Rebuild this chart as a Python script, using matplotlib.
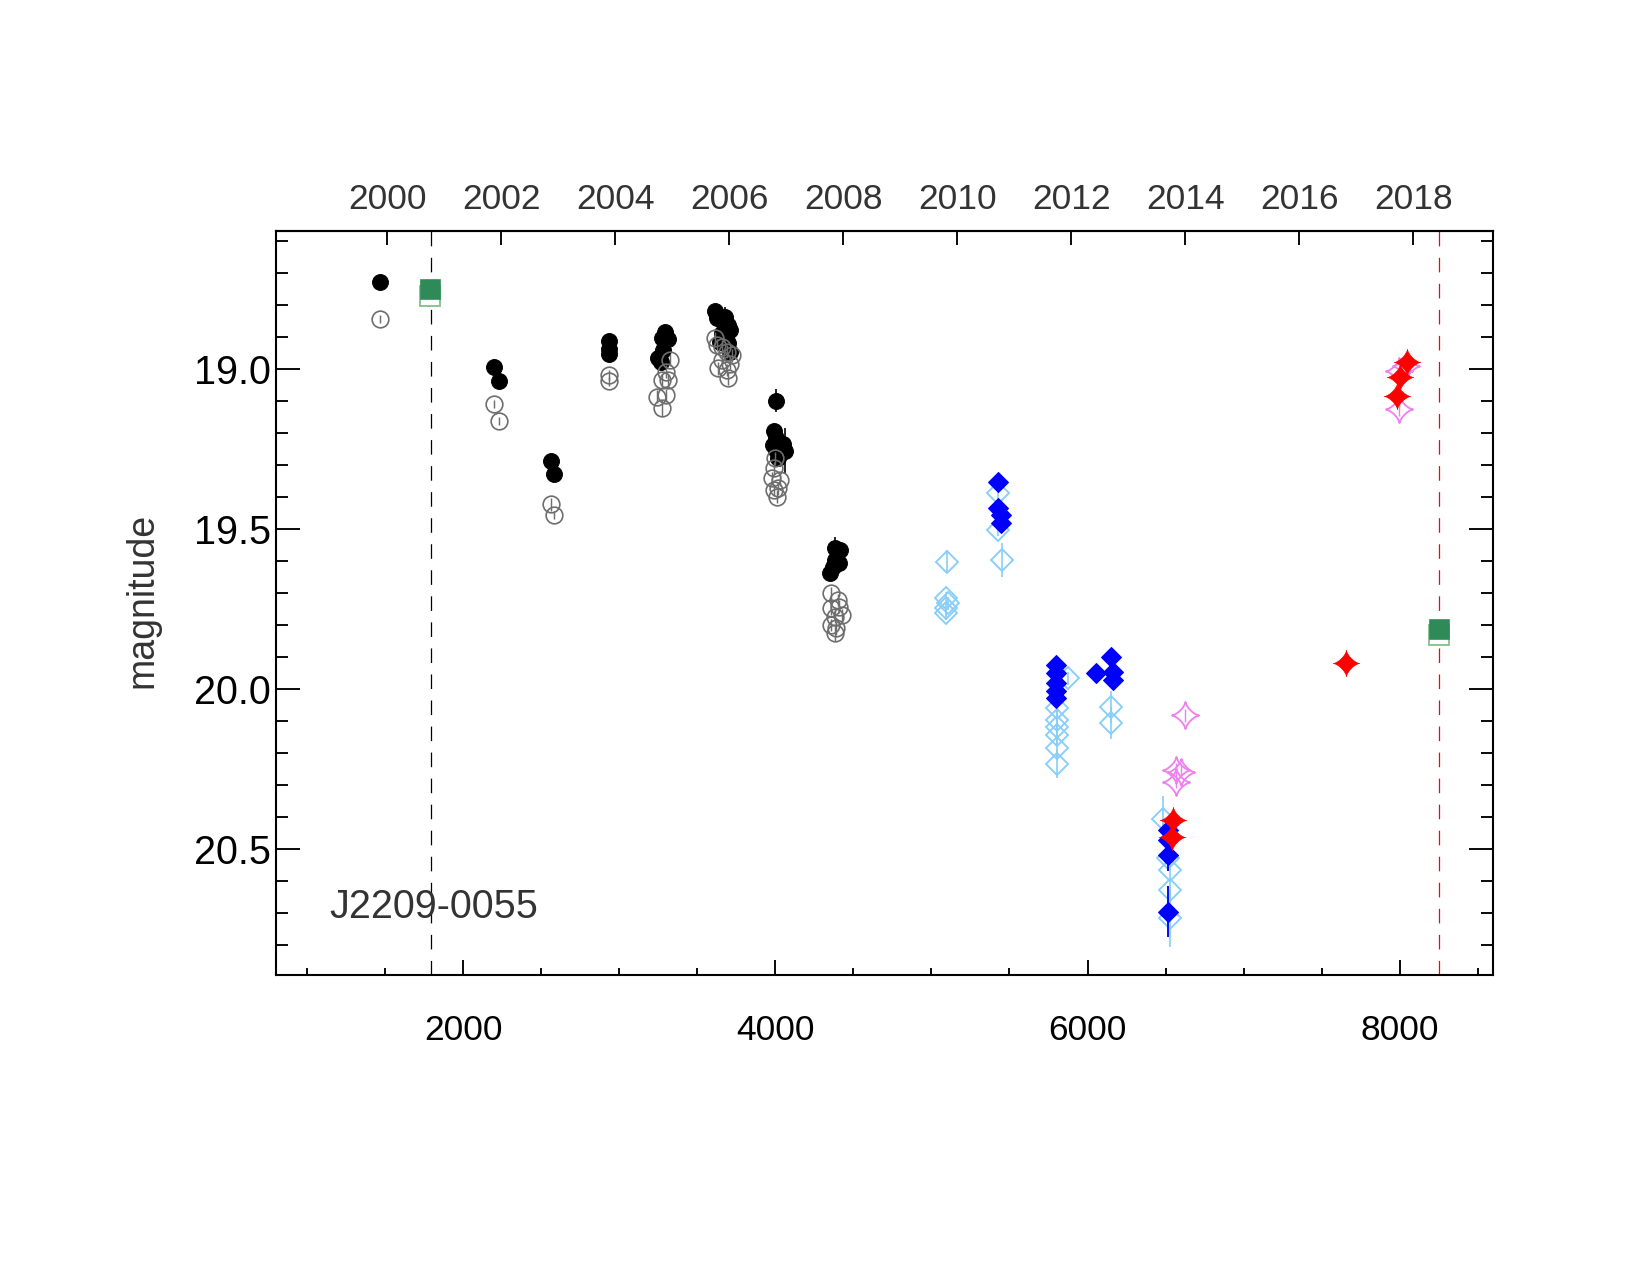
import numpy as np
import matplotlib
matplotlib.use("Agg")
import matplotlib.pyplot as plt
from matplotlib.path import Path
from matplotlib.ticker import MultipleLocator, FormatStrFormatter

plt.rcParams['font.family'] = ['Liberation Sans', 'DejaVu Sans']
plt.rcParams['lines.scale_dashes'] = False

# black filled circles
blk_x = [1465, 2197, 2230, 2559, 2579, 2933, 2933, 2933,
         3292, 3271, 3313, 3280, 3249, 3270,
         3612, 3623, 3676, 3697, 3708, 3655, 3644, 3697, 3708,
         4002, 3990, 4007, 3985, 4050, 4007, 4060, 4017,
         4380, 4412, 4380, 4408, 4370, 4348]
blk_y = [18.727, 18.992, 19.037, 19.286, 19.327, 18.911, 18.937, 18.952,
         18.883, 18.903, 18.906, 18.940, 18.966, 18.976,
         18.817, 18.841, 18.836, 18.862, 18.877, 18.888, 18.914, 18.919, 18.945,
         19.098, 19.192, 19.216, 19.237, 19.232, 19.252, 19.255, 19.278,
         19.560, 19.565, 19.596, 19.606, 19.617, 19.636]
blk_e = [0.01, 0.01, 0.01, 0.01, 0.01, 0.01, 0.01, 0.01,
         0.015, 0.015, 0.015, 0.015, 0.015, 0.015,
         0.015, 0.015, 0.03, 0.015, 0.015, 0.015, 0.015, 0.015, 0.015,
         0.036, 0.015, 0.015, 0.015, 0.015, 0.015, 0.07, 0.015,
         0.036, 0.015, 0.015, 0.015, 0.015, 0.015]

# grey open circles
gry_x = [1465, 2197, 2230, 2559, 2579, 2933, 2933,
         3324, 3302, 3271, 3313, 3239, 3302, 3271,
         3612, 3623, 3655, 3687, 3719, 3708, 3633, 3687, 3697, 3655,
         3996, 3990, 3981, 4028, 4017, 3990, 4011,
         4359, 4402, 4359, 4424, 4380, 4359, 4380, 4408, 4391]
gry_y = [18.842, 19.108, 19.162, 19.422, 19.456, 19.018, 19.038,
         18.971, 19.008, 19.034, 19.034, 19.086, 19.081, 19.122,
         18.903, 18.924, 18.930, 18.945, 18.956, 18.982, 18.997, 19.002, 19.028, 18.971,
         19.278, 19.310, 19.341, 19.346, 19.372, 19.377, 19.398,
         19.700, 19.721, 19.747, 19.768, 19.773, 19.799, 19.825, 19.742, 19.810]
gry_e = [0.012, 0.012, 0.012, 0.02, 0.012, 0.015, 0.015,
         0.02, 0.02, 0.02, 0.02, 0.02, 0.02, 0.025,
         0.02, 0.02, 0.02, 0.02, 0.02, 0.02, 0.02, 0.02, 0.02, 0.02,
         0.02, 0.02, 0.02, 0.02, 0.02, 0.02, 0.02,
         0.02, 0.02, 0.02, 0.02, 0.02, 0.02, 0.025, 0.02, 0.02]

# green squares (filled and open)
grn_x = [1788, 8251]
grn_y = [18.749, 19.813]
grn_open_y = [18.770, 19.830]

# blue filled diamonds
blu_x = [5427, 5427, 5448, 5448,
         5801, 5801, 5801, 5801, 5801,
         6153, 6057, 6163, 6163,
         6516, 6516, 6516, 6516]
blu_y = [19.351, 19.435, 19.455, 19.481,
         19.924, 19.950, 19.979, 20.004, 20.028,
         19.898, 19.948, 19.945, 19.971,
         20.440, 20.471, 20.518, 20.695]
blu_e = [0.02, 0.02, 0.02, 0.02,
         0.02, 0.02, 0.02, 0.02, 0.025,
         0.02, 0.02, 0.02, 0.02,
         0.02, 0.02, 0.05, 0.08]

# light blue open diamonds
lbl_x = [5102, 5096, 5106, 5092, 5096,
         5427, 5427, 5452,
         5875, 5805, 5805, 5805, 5805, 5805, 5805,
         6149, 6149,
         6483, 6516, 6526, 6526, 6526]
lbl_y = [19.601, 19.716, 19.731, 19.747, 19.763,
         19.388, 19.502, 19.596,
         19.966, 20.060, 20.096, 20.117, 20.143, 20.185, 20.233,
         20.057, 20.107,
         20.404, 20.528, 20.565, 20.627, 20.716]
lbl_e = [0.036, 0.02, 0.02, 0.02, 0.02,
         0.02, 0.02, 0.052,
         0.02, 0.03, 0.03, 0.03, 0.03, 0.03, 0.045,
         0.05, 0.05,
         0.07, 0.03, 0.03, 0.03, 0.09]

# red filled stars
red_x = [6548, 6544, 7658, 8047, 8000, 7983]
red_y = [20.409, 20.463, 19.919, 18.976, 19.023, 19.084]

# violet open stars
vio_x = [6622, 6569, 6601, 6569, 8040, 7995, 7998]
vio_y = [20.081, 20.252, 20.258, 20.289, 18.990, 19.005, 19.125]
vio_e = [0.02, 0.02, 0.02, 0.02, 0.02, 0.02, 0.02]

line_x = [1791, 8252]
years = list(range(2000, 2019, 2))

# four pointed star marker
t = np.linspace(0, 2 * np.pi, 161)
c, s = np.cos(t), np.sin(t)
star = Path(np.column_stack([np.sign(c) * np.abs(c) ** 2.8,
                             np.sign(s) * np.abs(s) ** 2.8]), closed=True)

fig = plt.figure(figsize=(11, 8.5), dpi=150)
ax = fig.add_axes([0.16727, 0.23529, 0.73776, 0.58376])

ax.axvline(line_x[0], color='k', lw=0.6, ls=(0, (7, 5.5)), zorder=1)
ax.axvline(line_x[1], color='red', lw=0.6, ls=(0, (7, 5.5)), zorder=1)

ax.errorbar(blk_x, blk_y, yerr=blk_e, fmt='o', color='k', ms=7.6, mew=0.5,
            elinewidth=0.8, capsize=0, zorder=3)
ax.errorbar(gry_x, gry_y, yerr=gry_e, fmt='o', mfc='none', mec='#6e6e6e',
            ecolor='#6e6e6e', ms=8.0, mew=0.8, elinewidth=0.7, capsize=0, zorder=4)

ax.errorbar(lbl_x, lbl_y, yerr=lbl_e, fmt='D', mfc='none', mec='#87cefa',
            ecolor='#87cefa', ms=7.6, mew=0.9, elinewidth=0.8, capsize=0, zorder=5)
ax.errorbar(blu_x, blu_y, yerr=blu_e, fmt='D', color='#0000ff', ms=7.1, mew=0.5,
            elinewidth=0.9, capsize=0, zorder=6)

ax.errorbar(vio_x, vio_y, yerr=vio_e, fmt='none', ecolor='#ee82ee',
            elinewidth=0.7, capsize=0, zorder=7)
ax.plot(vio_x, vio_y, ls='none', marker=star, ms=13, mfc='none', mec='#ee82ee',
        mew=0.9, zorder=7)
ax.plot(red_x, red_y, ls='none', marker=star, ms=12.5, color='#ff0000', mew=0.3,
        zorder=8)

ax.plot(grn_x, grn_open_y, ls='none', marker='s', ms=9.4, mfc='white',
        mec='#86c28f', mew=0.9, zorder=9)
ax.plot(grn_x, grn_y, ls='none', marker='s', ms=9.2, color='#2e8b57', mew=0.3,
        zorder=10)

ax.set_xlim(800, 8600)
ax.set_ylim(20.893, 18.567)

ax.xaxis.set_major_locator(MultipleLocator(2000))
ax.xaxis.set_minor_locator(MultipleLocator(500))
ax.yaxis.set_major_locator(MultipleLocator(0.5))
ax.yaxis.set_minor_locator(MultipleLocator(0.1))
ax.yaxis.set_major_formatter(FormatStrFormatter('%.1f'))

ax.tick_params(axis='x', which='major', direction='in', length=7.2, width=0.9,
               labelsize=17, pad=18.5, top=False)
ax.tick_params(axis='x', which='minor', direction='in', length=3.3, width=0.9,
               top=False)
ax.tick_params(axis='y', which='major', direction='in', length=11.5, width=0.9,
               labelsize=19, pad=2.5, right=True)
ax.tick_params(axis='y', which='minor', direction='in', length=5.8, width=0.9,
               right=True)
for sp in ax.spines.values():
    sp.set_linewidth(1.0)

sec = ax.secondary_xaxis('top', functions=(lambda x: 2000 + (x - 1513) / 365.25,
                                           lambda yr: 1513 + (yr - 2000) * 365.25))
sec.set_xticks(years)
sec.tick_params(direction='in', length=6.7, width=0.9, labelsize=17, pad=7,
                labelcolor='#333333')
sec.spines['top'].set_linewidth(1.0)

fig.text(142 / 1650, 1 - 600 / 1275, 'magnitude', rotation=90, ha='center',
         va='center', fontsize=18, color='#333333')
ax.text(0.0439, 0.0771, 'J2209-0055', transform=ax.transAxes, fontsize=19,
        color='#333333', va='baseline')

fig.savefig('out.png', dpi=150)
